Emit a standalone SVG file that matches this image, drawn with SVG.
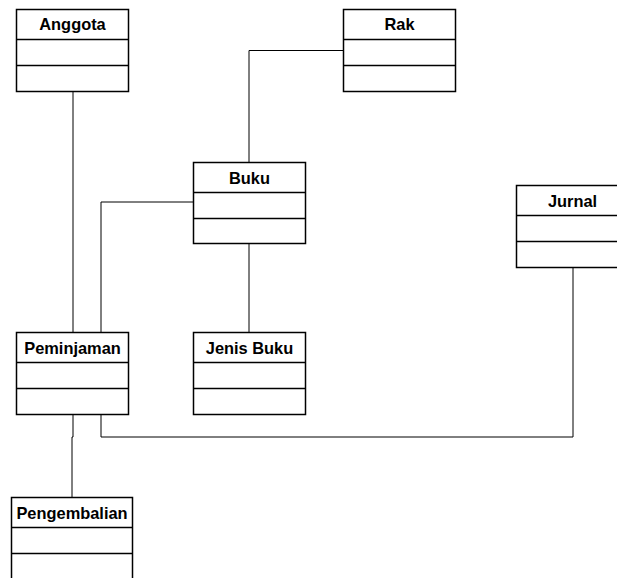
<svg xmlns="http://www.w3.org/2000/svg" width="617" height="578" viewBox="0 0 617 578">
<style>
.box{fill:#fff;stroke:#000;stroke-width:1.5}
.div{stroke:#000;stroke-width:1.5}
.t{font-family:"Liberation Sans",Arial,sans-serif;font-weight:bold;font-size:16.4px;text-anchor:middle;fill:#000}
.c{fill:none;stroke:#000;stroke-width:1}
</style>
<rect width="617" height="578" fill="#fff"/>
<g id="connectors">
<polyline class="c" points="73,91 73,332"/>
<polyline class="c" points="343,50.5 249,50.5 249,162"/>
<polyline class="c" points="193,202 101,202 101,332"/>
<polyline class="c" points="249,244 249,332"/>
<polyline class="c" points="101,415 101,437 573,437 573,268"/>
<polyline class="c" points="73,415 73,437 72,437 72,497"/>
</g>
<g id="Anggota">
<rect class="box" x="16.5" y="9.5" width="112" height="82"/>
<line class="div" x1="16.5" y1="39.5" x2="128.5" y2="39.5"/>
<line class="div" x1="16.5" y1="65.5" x2="128.5" y2="65.5"/>
<text class="t" x="72.5" y="30">Anggota</text>
</g>
<g id="Rak">
<rect class="box" x="343.5" y="9.5" width="112" height="82"/>
<line class="div" x1="343.5" y1="39.5" x2="455.5" y2="39.5"/>
<line class="div" x1="343.5" y1="65.5" x2="455.5" y2="65.5"/>
<text class="t" x="399.5" y="30">Rak</text>
</g>
<g id="Buku">
<rect class="box" x="193.5" y="162.5" width="112" height="81"/>
<line class="div" x1="193.5" y1="192.5" x2="305.5" y2="192.5"/>
<line class="div" x1="193.5" y1="218.5" x2="305.5" y2="218.5"/>
<text class="t" x="249.5" y="183.5">Buku</text>
</g>
<g id="Jurnal">
<rect class="box" x="516.5" y="185.5" width="112" height="82"/>
<line class="div" x1="516.5" y1="215.5" x2="628.5" y2="215.5"/>
<line class="div" x1="516.5" y1="241.5" x2="628.5" y2="241.5"/>
<text class="t" x="572.5" y="206.5">Jurnal</text>
</g>
<g id="Peminjaman">
<rect class="box" x="16.5" y="332.5" width="112" height="82"/>
<line class="div" x1="16.5" y1="362.5" x2="128.5" y2="362.5"/>
<line class="div" x1="16.5" y1="388.5" x2="128.5" y2="388.5"/>
<text class="t" x="72.5" y="354">Peminjaman</text>
</g>
<g id="JenisBuku">
<rect class="box" x="193.5" y="332.5" width="112" height="82"/>
<line class="div" x1="193.5" y1="362.5" x2="305.5" y2="362.5"/>
<line class="div" x1="193.5" y1="388.5" x2="305.5" y2="388.5"/>
<text class="t" x="249.5" y="354">Jenis Buku</text>
</g>
<g id="Pengembalian">
<rect class="box" x="11.5" y="497.5" width="121" height="100"/>
<line class="div" x1="11.5" y1="527.5" x2="132.5" y2="527.5"/>
<line class="div" x1="11.5" y1="553.5" x2="132.5" y2="553.5"/>
<text class="t" x="72" y="519">Pengembalian</text>
</g>
</svg>
